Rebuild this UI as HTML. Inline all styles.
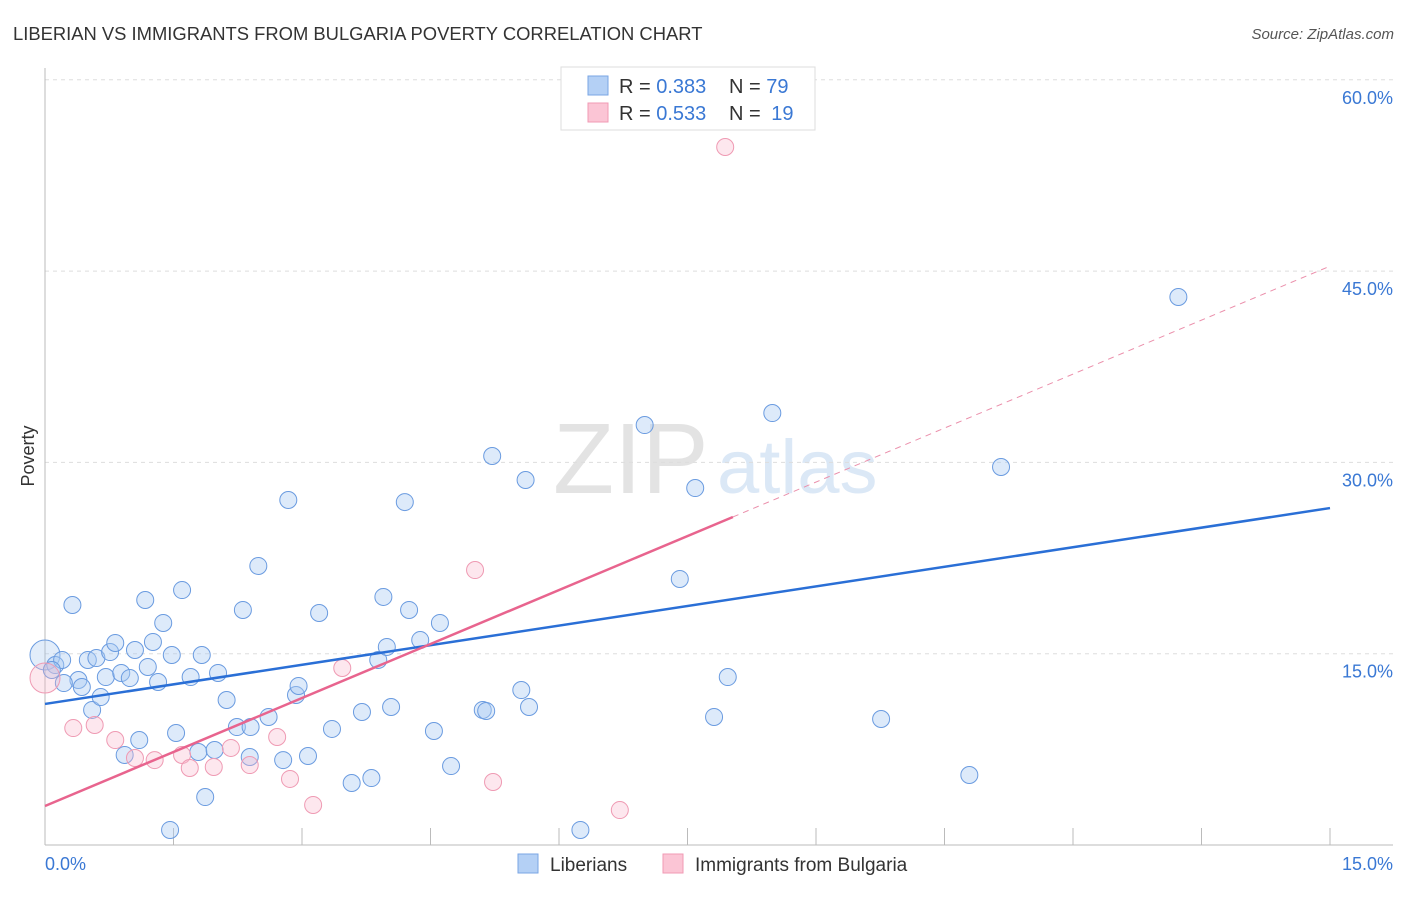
<!DOCTYPE html>
<html><head><meta charset="utf-8"><style>
body{margin:0;background:#fff;font-family:"Liberation Sans",sans-serif;}
svg text{font-family:"Liberation Sans",sans-serif;}
</style></head><body>
<svg id="chart" width="1406" height="892" xmlns="http://www.w3.org/2000/svg">
<text x="13" y="40" font-size="18.4" fill="#333">LIBERIAN VS IMMIGRANTS FROM BULGARIA POVERTY CORRELATION CHART</text>
<text x="1394" y="39" font-size="15" fill="#555" font-style="italic" text-anchor="end">Source: ZipAtlas.com</text>
<g opacity="0.4">
<text x="553" y="493" font-size="100" font-family="Liberation Serif" fill="#bbb">ZIP</text>
<text x="717" y="493" font-size="76" fill="#a8c6ea">atlas</text>
</g>
<g id="grid"></g>
<g id="axes"></g>
<g id="pts"></g>
<g id="trends"></g>
<text x="34" y="456" font-size="18" fill="#333" transform="rotate(-90 34 456)" text-anchor="middle">Poverty</text>
<g>
<rect x="561" y="67" width="254" height="63" fill="#fff" stroke="#ddd"/>
<rect x="588" y="76" width="20" height="19" fill="#b4d0f5" stroke="#7aa6e4"/>
<rect x="588" y="103" width="20" height="19" fill="#fbc5d5" stroke="#f09ab4"/>
<text x="619" y="93" font-size="20" fill="#333">R = <tspan fill="#3a78d4">0.383</tspan></text>
<text x="729" y="93" font-size="20" fill="#333">N = <tspan fill="#3a78d4">79</tspan></text>
<text x="619" y="120" font-size="20" fill="#333">R = <tspan fill="#3a78d4">0.533</tspan></text>
<text x="729" y="120" font-size="20" fill="#333">N = <tspan fill="#3a78d4" dx="5">19</tspan></text>
</g>
<g>
<rect x="518" y="854" width="20" height="19" fill="#b4d0f5" stroke="#7aa6e4"/>
<text x="550" y="871" font-size="19" fill="#333">Liberians</text>
<rect x="663" y="854" width="20" height="19" fill="#fbc5d5" stroke="#f09ab4"/>
<text x="695" y="871" font-size="19" fill="#333">Immigrants from Bulgaria</text>
</g>
</svg>
<script>
const blueX=[0.00,0.12,0.20,0.32,0.39,0.43,0.50,0.55,0.60,0.65,0.71,0.76,0.82,0.89,0.93,0.99,1.05,1.10,1.17,1.20,1.26,1.32,1.38,1.48,1.53,1.60,1.46,1.70,1.79,1.83,1.87,1.98,2.02,2.12,2.24,2.31,2.39,2.40,2.49,2.61,2.78,2.84,2.93,2.96,3.07,3.20,3.35,3.58,3.70,3.81,3.89,3.95,3.99,4.04,4.20,4.25,4.38,4.54,4.61,4.74,5.11,5.15,5.22,5.56,5.61,5.65,6.25,7.00,7.41,7.59,7.81,7.97,8.49,9.76,10.79,11.16,13.23,0.22,0.08];
const blueY=[14.90,14.11,14.51,18.82,12.94,12.39,14.51,10.59,14.66,11.60,13.17,15.13,15.84,13.49,7.06,13.09,15.29,8.23,19.21,13.96,15.92,12.78,17.41,14.90,8.78,19.99,1.18,13.17,7.29,14.90,3.76,7.45,13.49,11.37,9.25,18.43,6.90,9.25,21.88,10.04,6.66,27.05,11.76,12.47,6.98,18.19,9.10,4.86,10.43,5.25,14.51,19.45,15.53,10.82,26.89,18.43,16.07,8.94,17.41,6.19,10.59,10.51,30.50,12.15,28.62,10.82,1.18,32.93,20.86,27.99,10.04,13.17,33.87,9.88,5.49,29.64,42.97,12.70,13.72];
const pinkX=[0.00,0.33,0.58,0.82,1.05,1.28,1.60,1.69,1.97,2.17,2.39,2.71,2.86,3.13,3.47,5.02,5.23,6.71,7.94];
const pinkY=[13.09,9.17,9.41,8.23,6.82,6.66,7.06,6.04,6.12,7.61,6.27,8.47,5.18,3.14,13.88,21.56,4.94,2.74,54.73];
const yTicks=[15,30,45,60];
const yTickLabels=["15.0%","30.0%","45.0%","60.0%"];
const xTicks=[0,1.5,3,4.5,6,7.5,9,10.5,12,13.5,15];
const blueTrend=[11.06,26.42];
const pinkTrend=[3.06,2.822];
const pinkSolidEnd=8.03;
const NS="http://www.w3.org/2000/svg";
const X=v=>45+v/15*1285, Y=v=>845-v/15*191.3;
function mk(p,t,a){const e=document.createElementNS(NS,t);for(const k in a)e.setAttribute(k,a[k]);p.appendChild(e);return e;}
const grid=document.getElementById('grid'),axes=document.getElementById('axes');
yTicks.forEach((t,i)=>{
 const l=mk(grid,'line',{x1:45,x2:1393,y1:Y(t),y2:Y(t),stroke:'#ddd','stroke-dasharray':'4,4'});
 
 
 const tx=mk(axes,'text',{x:1393,y:Y(t)+24,'font-size':18,fill:'#3a78d4','text-anchor':'end'});
 tx.textContent=yTickLabels[i];
 
 
});
mk(axes,'line',{x1:45,x2:45,y1:68,y2:845,stroke:'#bbb'});
mk(axes,'line',{x1:45,x2:1393,y1:845,y2:845,stroke:'#bbb'});
xTicks.forEach(t=>{const l=mk(axes,'line',{x1:X(t),x2:X(t),y1:828,y2:845,stroke:'#bbb'});
 
 });
let a=mk(axes,'text',{x:45,y:870,'font-size':18,fill:'#3a78d4'});a.textContent='0.0%';


a=mk(axes,'text',{x:1393,y:870,'font-size':18,fill:'#3a78d4','text-anchor':'end'});a.textContent='15.0%';


const pts=document.getElementById('pts');
blueX.forEach((x,i)=>{const c=mk(pts,'circle',{cx:X(x),cy:Y(blueY[i]),r:i==0?15:8.5,fill:i==0?'rgba(160,196,240,0.3)':'rgba(170,202,242,0.4)',stroke:'#6a9be0','stroke-width':1});
 
 });
pinkX.forEach((x,i)=>{const c=mk(pts,'circle',{cx:X(x),cy:Y(pinkY[i]),r:i==0?15:8.5,fill:i==0?'rgba(248,180,200,0.3)':'rgba(248,185,205,0.35)',stroke:'#ef9ab3','stroke-width':1});
 
 });
const tr=document.getElementById('trends');
let l=mk(tr,'line',{x1:X(0),y1:Y(blueTrend[0]),x2:X(15),y2:Y(blueTrend[1]),stroke:'#2a6fd6','stroke-width':2.5});


const pf=v=>pinkTrend[0]+pinkTrend[1]*v;
l=mk(tr,'line',{x1:X(0),y1:Y(pf(0)),x2:X(pinkSolidEnd),y2:Y(pf(pinkSolidEnd)),stroke:'#e8648e','stroke-width':2.5});


l=mk(tr,'line',{x1:X(pinkSolidEnd),y1:Y(pf(pinkSolidEnd)),x2:X(15),y2:Y(pf(15)),stroke:'#eb8fab','stroke-width':1,'stroke-dasharray':'6,5'});


</script>
</body></html>
